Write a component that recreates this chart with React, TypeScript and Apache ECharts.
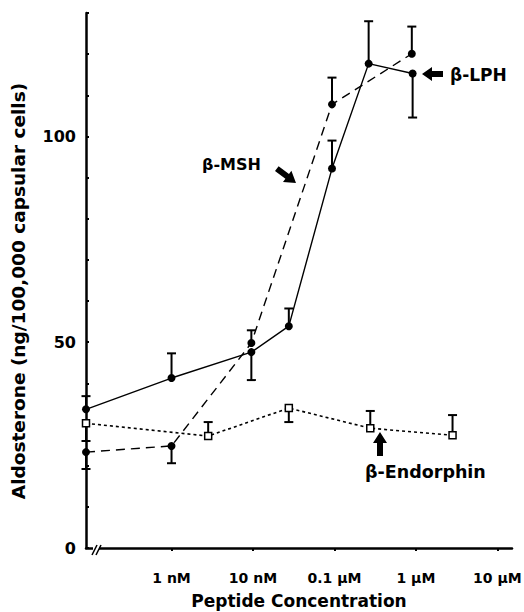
import React, { useEffect, useRef } from "react";
import * as echarts from "echarts";

// log10 of molar concentration; control (basal) values sit on the y axis
const X_MIN = -10.05;
const X_MAX = -4.82;

const xTickValues = [-9, -8, -7, -6, -5];
const xTickLabels = ["1 nM", "10 nM", "0.1 \u00b5M", "1 \u00b5M", "10 \u00b5M"];

const lphX = [X_MIN, -9, -8.02, -7.56, -7.03, -6.58, -6.04];
const lphY = [33.7, 41.3, 47.6, 53.9, 92.2, 117.7, 115.3];
const lphErr = [36.9, 47.3, 40.8, 58.2, 99, 128, 104.6];

const mshX = [X_MIN, -9, -8.02, -7.03, -6.05];
const mshY = [23.3, 24.8, 49.8, 107.8, 120.1];
const mshErr = [19.2, 20.6, 52.9, 114.3, 126.7];

const endX = [X_MIN, -8.55, -7.56, -6.56, -5.55];
const endY = [30.3, 27.2, 34.0, 29.1, 27.4];
const endErr = [26.0, 30.6, 30.6, 33.3, 32.3];

const Y_TITLE = "Aldosterone (ng/100,000 capsular cells)";
const X_TITLE = "Peptide Concentration";

const FONT = "DejaVu Sans";

function pairs(xs: number[], ys: number[]) {
  return xs.map((x, i) => [x, ys[i]]);
}
function triples(xs: number[], ys: number[], es: number[]) {
  return xs.map((x, i) => [x, ys[i], es[i]]);
}

export default function App() {
  const ref = useRef<HTMLDivElement>(null);
  useEffect(() => {
    if (!ref.current) return;
    const chart = echarts.init(ref.current, null, { renderer: "svg" });

    const errRender = (params: any, api: any) => {
      const x = api.value(0);
      const y = api.value(1);
      const e = api.value(2);
      const p1 = api.coord([x, y]);
      const p2 = api.coord([x, e]);
      const st = { stroke: "#000", lineWidth: 2 };
      return {
        type: "group",
        children: [
          { type: "line", shape: { x1: p1[0], y1: p1[1], x2: p2[0], y2: p2[1] }, style: st },
          { type: "line", shape: { x1: p2[0] - 4.5, y1: p2[1], x2: p2[0] + 4.5, y2: p2[1] }, style: st },
        ],
      };
    };

    const breakRender = (params: any, api: any) => {
      const p = api.coord([api.value(0), api.value(1)]);
      const st = { stroke: "#000", lineWidth: 1.5 };
      return {
        type: "group",
        children: [
          { type: "rect", shape: { x: p[0] + 7, y: p[1] - 3, width: 6, height: 6 }, style: { fill: "#fff" } },
          { type: "line", shape: { x1: p[0] + 6, y1: p[1] + 7, x2: p[0] + 11, y2: p[1] - 3 }, style: st },
          { type: "line", shape: { x1: p[0] + 10, y1: p[1] + 7, x2: p[0] + 15, y2: p[1] - 3 }, style: st },
        ],
      };
    };

    const lineBase = {
      type: "line",
      clip: false,
      z: 3,
      animation: false,
    };

    chart.setOption({
      animation: false,
      backgroundColor: "#fff",
      grid: { left: 86, right: 12, top: 13, bottom: 64, containLabel: false, outerBoundsMode: "none" },
      xAxis: {
        type: "value",
        min: X_MIN,
        max: X_MAX,
        name: X_TITLE,
        nameLocation: "middle",
        nameGap: 44,
        nameTextStyle: { fontFamily: FONT, fontWeight: "bold", fontSize: 17, color: "#000" },
        axisLine: { show: true, lineStyle: { color: "#000", width: 2.5 } },
        axisTick: { show: true, customValues: xTickValues, length: 3, lineStyle: { color: "#000", width: 2 } },
        axisLabel: {
          customValues: xTickValues,
          margin: 23,
          fontFamily: FONT,
          fontWeight: "bold",
          fontSize: 14,
          color: "#000",
          formatter: (v: number) => {
            const i = xTickValues.indexOf(Math.round(v));
            return i >= 0 ? xTickLabels[i] : "";
          },
        },
        splitLine: { show: false },
      },
      yAxis: {
        type: "value",
        min: 0,
        max: 130,
        interval: 10,
        axisLine: { show: true, lineStyle: { color: "#000", width: 2.5 } },
        axisTick: { show: true, inside: true, length: 3, lineStyle: { color: "#000", width: 2 } },
        axisLabel: {
          margin: 10,
          fontFamily: FONT,
          fontWeight: "bold",
          fontSize: 16,
          color: "#000",
          formatter: (v: number) => (v % 50 === 0 ? String(v) : ""),
        },
        splitLine: { show: false },
      },
      series: [
        {
          ...lineBase,
          name: "\u03b2-LPH",
          data: pairs(lphX, lphY),
          symbol: "circle",
          symbolSize: 8,
          itemStyle: { color: "#000" },
          lineStyle: { color: "#000", width: 1.4, type: "solid" },
        },
        {
          ...lineBase,
          name: "\u03b2-MSH",
          data: pairs(mshX, mshY),
          symbol: "circle",
          symbolSize: 8,
          itemStyle: { color: "#000" },
          lineStyle: { color: "#000", width: 1.4, type: [9, 6] },
        },
        {
          ...lineBase,
          name: "\u03b2-Endorphin",
          data: pairs(endX, endY),
          symbol: "rect",
          symbolSize: 7,
          itemStyle: { color: "#fff", borderColor: "#000", borderWidth: 1.5 },
          lineStyle: { color: "#000", width: 1.6, type: [3, 3] },
        },
        {
          type: "custom",
          clip: false,
          z: 2,
          renderItem: errRender,
          data: [
            ...triples(lphX, lphY, lphErr),
            ...triples(mshX, mshY, mshErr),
            ...triples(endX, endY, endErr),
          ],
        },
        {
          type: "custom",
          clip: false,
          z: 4,
          renderItem: breakRender,
          data: [[X_MIN, 0]],
        },
      ],
      graphic: [
        {
          type: "text",
          x: 18,
          y: 291,
          rotation: Math.PI / 2,
          style: { x: 0, y: 0, text: Y_TITLE, fontFamily: FONT, fontWeight: "bold", fontSize: 18.5, fill: "#000", align: "center", verticalAlign: "middle" },
        },
        {
          type: "polygon",
          shape: { points: [[422, 74], [432, 67], [432, 71], [443, 71], [443, 77], [432, 77], [432, 81]] },
          style: { fill: "#000" },
        },
        {
          type: "text",
          style: { x: 450, y: 75, text: "\u03b2-LPH", fontFamily: FONT, fontWeight: "bold", fontSize: 17, fill: "#000", verticalAlign: "middle" },
        },
        {
          type: "polygon",
          shape: { points: [[296, 183], [283, 182], [285.4, 178.8], [275, 171], [278.6, 166.2], [289, 174], [291.4, 170.8]] },
          style: { fill: "#000" },
        },
        {
          type: "text",
          style: { x: 202, y: 164, text: "\u03b2-MSH", fontFamily: FONT, fontWeight: "bold", fontSize: 16, fill: "#000", verticalAlign: "middle" },
        },
        {
          type: "polygon",
          shape: { points: [[380, 432], [387, 443], [383, 443], [383, 456], [377, 456], [377, 443], [373, 443]] },
          style: { fill: "#000" },
        },
        {
          type: "text",
          style: { x: 365, y: 472, text: "\u03b2-Endorphin", fontFamily: FONT, fontWeight: "bold", fontSize: 17.5, fill: "#000", verticalAlign: "middle" },
        },
      ],
    });
    return () => chart.dispose();
  }, []);
  return <div ref={ref} style={{ position: "fixed", left: 0, top: 0, width: 524, height: 612 }} />;
}
